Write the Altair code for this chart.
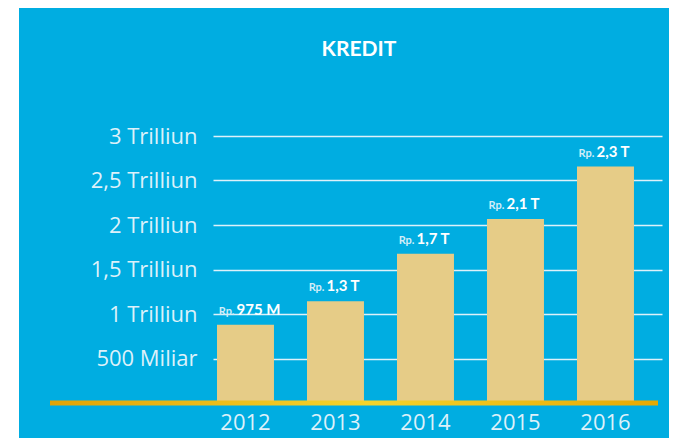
import altair as alt
import pandas as pd

# ---- data ----
years = ["2012", "2013", "2014", "2015", "2016"]
kredit_triliun = [0.88, 1.144, 1.678, 2.067, 2.656]
value_labels = ["975 M", "1,3 T", "1,7 T", "2,1 T", "2,3 T"]
currency_prefix = "Rp."
y_tick_values = [0.5, 1, 1.5, 2, 2.5, 3]
y_tick_labels = ["500 Miliar", "1 Trilliun", "1,5 Trilliun", "2 Trilliun", "2,5 Trilliun", "3 Trilliun"]
title_text = "KREDIT"

df = pd.DataFrame({
    "year": years,
    "value": kredit_triliun,
    "label": value_labels,
    "prefix": [currency_prefix] * len(years),
})
one = pd.DataFrame({"k": [0]})

W, H = 449, 267
PAD = {"left": 205, "top": 128, "right": 7, "bottom": 35}
BLUE = "#00ADE1"
BAR = "#E6CC87"
LIGHT = "#DDF1FA"
AXFONT = "Open Sans"
FONT = "Lato"

label_expr = ""
for v, t in zip(y_tick_values, y_tick_labels):
    label_expr += f"datum.value == {v} ? '{t}' : "
label_expr += "''"

x_enc = alt.X(
    "year:N",
    sort=years,
    scale=alt.Scale(paddingInner=0.367, paddingOuter=0.178, align=0.125),
    axis=alt.Axis(
        title=None, labelAngle=0, domain=False, ticks=False, tickSize=0,
        labelPadding=9, labelFont=AXFONT, labelFontSize=22, labelFontWeight="normal",
        labelColor=LIGHT, grid=False,
    ),
)
y_enc = alt.Y(
    "value:Q",
    scale=alt.Scale(domain=[0, 3], nice=False, zero=True),
    axis=alt.Axis(
        title=None, values=y_tick_values, labelExpr=label_expr, grid=True,
        gridColor="#DDF1FA", gridWidth=1.3, domain=False, ticks=False, tickSize=0,
        labelPadding=16, labelFont=AXFONT, labelFontSize=22, labelFontWeight="normal",
        labelColor=LIGHT, labelBaseline="middle",
    ),
)

white_strip = alt.Chart(one).mark_rect(color="white").encode(
    x=alt.value(-PAD["left"]), x2=alt.value(-194),
    y=alt.value(-PAD["top"]), y2=alt.value(H + PAD["bottom"]),
)

bars = alt.Chart(df).mark_bar(color=BAR).encode(x=x_enc, y=y_enc)

gradient = alt.LinearGradient(
    gradient="linear",
    stops=[
        alt.GradientStop(color="#E2A305", offset=0),
        alt.GradientStop(color="#F5D42C", offset=0.52),
        alt.GradientStop(color="#E7A902", offset=1),
    ],
    x1=0, x2=1, y1=0, y2=0,
)
baseline = alt.Chart(one).mark_rect(fill=gradient).encode(
    x=alt.value(-163), x2=alt.value(445),
    y=alt.value(H - 2.5), y2=alt.value(H + 2.5),
)

prefix_text = alt.Chart(df).mark_text(
    align="right", baseline="alphabetic", dx=-11, dy=-10,
    font=FONT, fontSize=11, fontWeight="bold", color="#D2EDF8",
).encode(x=alt.X("year:N", sort=years), y="value:Q", text="prefix:N")

value_text = alt.Chart(df).mark_text(
    align="left", baseline="alphabetic", dx=-9, dy=-10,
    font=FONT, fontSize=15, fontWeight="bold", color="white",
).encode(x=alt.X("year:N", sort=years), y="value:Q", text="label:N")

title = alt.Chart(one).mark_text(
    align="center", baseline="alphabetic", font=FONT, fontSize=21,
    fontWeight="bold", color="white",
).encode(x=alt.value(146), y=alt.value(-80), text=alt.value(title_text))

chart = alt.layer(white_strip, bars, baseline, prefix_text, value_text, title).properties(
    width=W, height=H,
    background=BLUE,
    padding=PAD,
    autosize=alt.AutoSizeParams(type="none"),
).configure_view(stroke=None)

chart.save("out.html", embed_options={"renderer": "svg", "actions": False})
